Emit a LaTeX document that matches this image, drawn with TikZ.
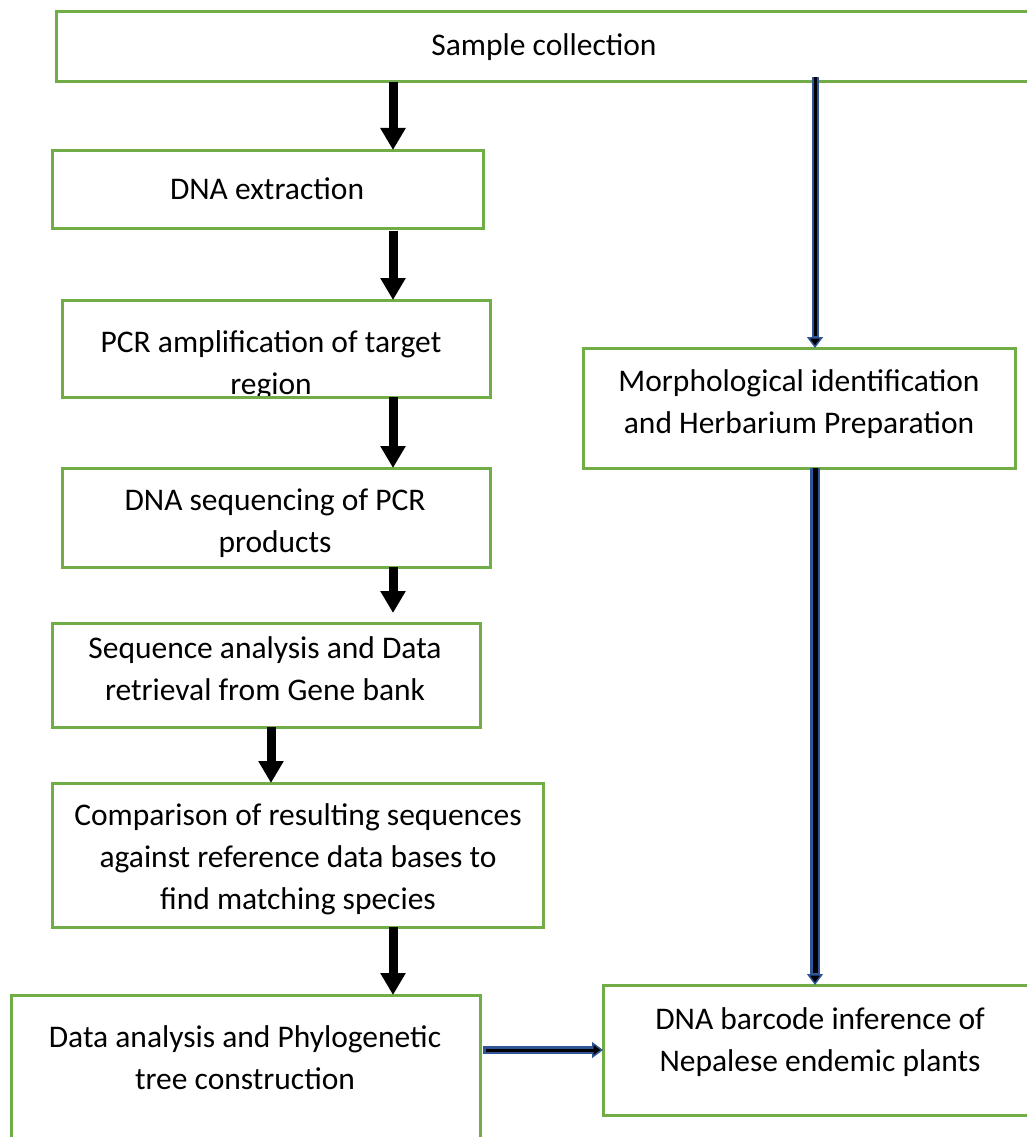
\documentclass[tikz,border=0pt]{standalone}
\usepackage{fontspec}
\setmainfont{Carlito}
\usetikzlibrary{arrows.meta}
\definecolor{boxgreen}{RGB}{112,173,71}
\definecolor{linkblue}{RGB}{47,85,151}
\tikzset{
  box/.style={draw=boxgreen, line width=3pt, rectangle, inner sep=0pt, outer sep=0pt, anchor=north west},
  txt/.style={anchor=north, yshift=19.4pt, inner sep=0pt, align=center, font=\fontsize{31.5}{42}\selectfont, execute at begin node=\strut},
  bigarrow/.style={line width=9pt, -{Triangle[width=24pt,length=22pt]}},
  bluearrow/.style={draw=linkblue, line width=#1, -{Triangle[width=16pt,length=11pt,fill=black,line width=1.5pt]}},
  coreline/.style={draw=black, line width=#1}
}
\begin{document}
\begin{tikzpicture}[x=1pt,y=-1pt]
\useasboundingbox (0,0) rectangle (1027,1137);
\fill[white] (0,0) rectangle (1027,1137);
% boxes
\node[box, minimum width=984pt, minimum height=70pt] (sample) at (56,12) {};
\node[box, minimum width=431pt, minimum height=78pt] (dnaext) at (52,150) {};
\node[box, minimum width=428pt, minimum height=97pt] (pcr) at (62,300) {};
\node[box, minimum width=432pt, minimum height=120pt] (morph) at (583,348) {};
\node[box, minimum width=428pt, minimum height=99pt] (seq) at (62,468) {};
\node[box, minimum width=428pt, minimum height=104pt] (ana) at (52,623) {};
\node[box, minimum width=491pt, minimum height=144pt] (comp) at (52,783) {};
\node[box, minimum width=469pt, minimum height=155pt] (data) at (11,995) {};
\node[box, minimum width=437pt, minimum height=130pt] (barcode) at (603,985) {};
% texts
\node[txt] (tsample) at (544,45) {Sample collection};
\node[txt] (tdnaext) at (267,189) {DNA extraction};
\begin{scope}
\clip (pcr.south west) rectangle (pcr.north east);
\node[txt] (tpcr) at (271,350) {PCR amplification of target\\region};
\end{scope}
\node[box, minimum width=428pt, minimum height=97pt] at (62,300) {};
\node[txt] (tmorph) at (799,389) {Morphological identification\\and Herbarium Preparation};
\node[txt] (tseq) at (275,508) {DNA sequencing of PCR\\products};
\node[txt] (tana) at (265,656) {Sequence analysis and Data\\retrieval from Gene bank};
\node[txt] (tcomp) at (298,823) {Comparison of resulting sequences\\against reference data bases to\\find matching species};
\node[txt] (tdata) at (245,1045) {Data analysis and Phylogenetic\\tree construction};
\node[txt] (tbarcode) at (820,1027) {DNA barcode inference of\\Nepalese endemic plants};
% black arrows
\draw[bigarrow] (sample.south -| 393,0) -- (dnaext.north -| 393,0);
\draw[bigarrow] ([yshift=-3pt]dnaext.south -| 393,0) -- (pcr.north -| 393,0);
\draw[bigarrow] (pcr.south -| 393,0) -- (seq.north -| 393,0);
\draw[bigarrow] (seq.south -| 393,0) -- ([yshift=10pt]ana.north -| 393,0);
\draw[bigarrow] (ana.south -| 271,0) -- (comp.north -| 271,0);
\draw[bigarrow] (comp.south -| 393,0) -- (data.north -| 393,0);
% blue connectors
\coordinate (bstart) at (815,77);
\draw[bluearrow=7pt] (bstart) -- (morph.north -| bstart);
\draw[coreline=3pt] (bstart) -- ([yshift=12pt]morph.north -| bstart);
\draw[bluearrow=10pt] (morph.south -| bstart) -- (barcode.north -| bstart);
\draw[coreline=5pt] (morph.south -| bstart) -- ([yshift=12pt]barcode.north -| bstart);
\draw[bluearrow=8pt] ([xshift=3pt]data.east |- 0,1050) -- (barcode.west |- 0,1050);
\draw[coreline=3pt] ([xshift=6pt]data.east |- 0,1050) -- ([xshift=-8pt]barcode.west |- 0,1050);
\end{tikzpicture}
\end{document}
